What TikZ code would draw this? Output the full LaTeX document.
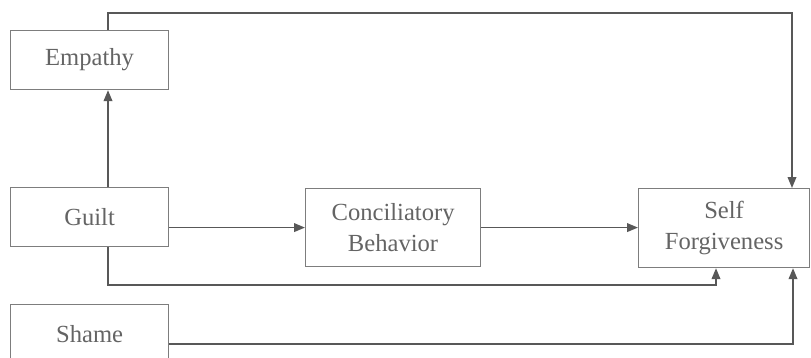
\documentclass[tikz,border=0pt]{standalone}
\usepackage{fontspec}
\setmainfont{Liberation Serif}
\usepackage{xcolor}
\usetikzlibrary{positioning,calc,arrows.meta}
\definecolor{boxclr}{RGB}{125,125,125}
\definecolor{lineclr}{RGB}{88,88,88}
\definecolor{txtclr}{RGB}{100,100,100}

\begin{document}
\begin{tikzpicture}[
    varbox/.style={draw=boxclr, line width=1pt, align=center, inner sep=0pt,
                   anchor=north west, text=txtclr,
                   font=\fontsize{21}{27}\selectfont},
    arr/.style={draw=lineclr, line width=1.4pt,
                -{Triangle[length=0.33cm,width=0.26cm]}},
    plain/.style={draw=lineclr, line width=1.4pt}]
  \useasboundingbox (0,0) rectangle (24.33,-10.74);
  % left column
  \node[varbox, minimum width=4.74cm, minimum height=1.77cm] (empathy) at (0.30,-0.90) {Empathy};
  \node[varbox, minimum width=4.74cm, minimum height=1.77cm] (guilt) at (0.30,-5.61) {Guilt};
  \node[varbox, minimum width=4.74cm, minimum height=1.77cm] (shame) at (0.30,-9.12) {Shame};
  % mediator and outcome
  \node[varbox, minimum width=5.25cm, minimum height=2.34cm] (concil) at (9.15,-5.64) {Conciliatory\\Behavior};
  \node[varbox, minimum width=5.13cm, minimum height=2.37cm] (selfforg) at (19.14,-5.64) {Self\\Forgiveness};
  % turning points
  \coordinate (gx) at (3.24,0);
  \coordinate (topturn) at (23.76,-0.39);
  \coordinate (lowturn) at (21.48,-8.55);
  \coordinate (shameturn) at (23.79,-10.32);
  % paths
  \draw[arr] (guilt.north -| gx) -- (empathy.south -| gx);
  \draw[arr] (empathy.north -| gx) |- (topturn) -- (topturn |- selfforg.north);
  \draw[arr] (guilt.east |- concil.west) -- (concil.west);
  \draw[arr] (concil.east) -- (selfforg.west |- concil.east);
  \draw[arr] (guilt.south -| gx) |- (lowturn) -- (lowturn |- selfforg.south);
  \draw[arr] (shame.east |- shameturn) -- (shameturn) -- (shameturn |- selfforg.south);
\end{tikzpicture}
\end{document}
